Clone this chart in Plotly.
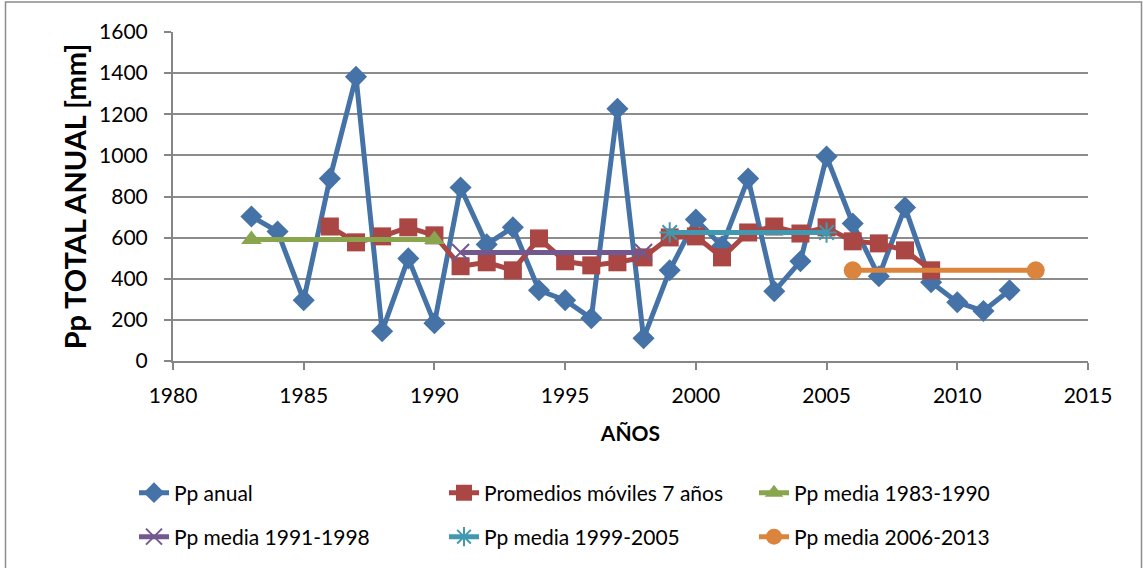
import plotly.graph_objects as go

years = list(range(1983, 2013))
pp_anual = [703, 630, 296, 887, 1382, 145, 499, 184, 844, 567,
            650, 344, 296, 208, 1227, 111, 441, 688, 558, 887,
            339, 485, 994, 669, 412, 747, 383, 286, 243, 344]

mm_years = list(range(1986, 2010))
mm_values = [654, 577, 606, 650, 611, 461, 480, 441, 596, 485,
             465, 480, 504, 601, 606, 504, 625, 654, 620, 650,
             582, 572, 538, 441]

mean_1983_1990_x = [1983, 1990]
mean_1983_1990_y = [591, 591]
mean_1991_1998_x = [1991, 1998]
mean_1991_1998_y = [528, 528]
mean_1999_2005_x = [1999, 2005]
mean_1999_2005_y = [625, 625]
mean_2006_2013_x = [2006, 2013]
mean_2006_2013_y = [441, 441]

FONT = "Lato"

fig = go.Figure()
fig.add_trace(go.Scatter(x=years, y=pp_anual, name="Pp anual", mode="lines+markers",
                         line=dict(color="#4572A7", width=5),
                         marker=dict(symbol="diamond", size=17, color="#4572A7"),
                         legend="legend", showlegend=True))
fig.add_trace(go.Scatter(x=mm_years, y=mm_values, name="Promedios móviles 7 años", mode="lines+markers",
                         line=dict(color="#AA4643", width=5),
                         marker=dict(symbol="square", size=18, color="#AA4643"),
                         legend="legend2", showlegend=True))
fig.add_trace(go.Scatter(x=mean_1983_1990_x, y=mean_1983_1990_y, name="Pp media 1983-1990", mode="lines+markers",
                         line=dict(color="#89A54E", width=5),
                         marker=dict(symbol="triangle-up", size=18, color="#89A54E"),
                         legend="legend3", showlegend=True))
fig.add_trace(go.Scatter(x=mean_1991_1998_x, y=mean_1991_1998_y, name="Pp media 1991-1998", mode="lines+markers",
                         line=dict(color="#71588F", width=5),
                         marker=dict(symbol="x-thin", size=17, color="#71588F",
                                     line=dict(color="#71588F", width=2)),
                         legend="legend4", showlegend=True))
fig.add_trace(go.Scatter(x=mean_1999_2005_x, y=mean_1999_2005_y, name="Pp media 1999-2005", mode="lines+markers",
                         line=dict(color="#4198AF", width=5),
                         marker=dict(symbol="asterisk-open", size=17, color="#4198AF",
                                     line=dict(color="#4198AF", width=2)),
                         legend="legend5", showlegend=True))
fig.add_trace(go.Scatter(x=mean_2006_2013_x, y=mean_2006_2013_y, name="Pp media 2006-2013", mode="lines+markers",
                         line=dict(color="#DB843D", width=5),
                         marker=dict(symbol="circle", size=18, color="#DB843D"),
                         legend="legend6", showlegend=True))


def leg(xpx, ypx):
    return dict(orientation="h", xref="container", yref="container",
                x=xpx / 1143, y=1 - ypx / 568,
                xanchor="left", yanchor="middle",
                font=dict(family=FONT, size=21, color="#000"),
                bgcolor="rgba(0,0,0,0)", itemclick=False, visible=True)


cols = [134, 444, 754]
rows = [493, 537]

fig.update_layout(
    width=1143, height=568,
    showlegend=True,
    margin=dict(l=173, r=55, t=32, b=207, autoexpand=False),
    paper_bgcolor="white", plot_bgcolor="white",
    font=dict(family=FONT, size=21, color="#000"),
    xaxis=dict(range=[1980, 2015], dtick=5, tick0=1980,
               showgrid=False, showline=True, linecolor="#868686", linewidth=2,
               ticks="outside", ticklen=7, tickcolor="#868686", tickwidth=2,
               tickfont=dict(family=FONT, size=21), ticklabelstandoff=8,
               title=dict(text="<b>AÑOS</b>", font=dict(family=FONT, size=21), standoff=20),
               zeroline=False),
    yaxis=dict(range=[0, 1600], dtick=200, tick0=0,
               showgrid=True, gridcolor="#8c8c8c", gridwidth=2,
               showline=True, linecolor="#868686", linewidth=2,
               ticks="outside", ticklen=7, tickcolor="#868686", tickwidth=2,
               tickfont=dict(family=FONT, size=21), ticklabelstandoff=12,
               title=dict(text="<b>Pp TOTAL ANUAL [mm]</b>", font=dict(family=FONT, size=29), standoff=4),
               zeroline=False),
    legend=leg(cols[0], rows[0]),
    legend2=leg(cols[1], rows[0]),
    legend3=leg(cols[2], rows[0]),
    legend4=leg(cols[0], rows[1]),
    legend5=leg(cols[1], rows[1]),
    legend6=leg(cols[2], rows[1]),
    shapes=[dict(type="rect", xref="paper", yref="paper",
                 x0=(5.5 - 173) / 915, x1=(1141.5 - 173) / 915,
                 y0=-(575 - 361) / 329, y1=(361 - 2) / 329,
                 line=dict(color="#8c8c8c", width=1.5), fillcolor="rgba(0,0,0,0)", layer="below")],
)

fig.write_html("out.html", config={"displayModeBar": False},
               post_script="document.body.style.margin='0px';")
